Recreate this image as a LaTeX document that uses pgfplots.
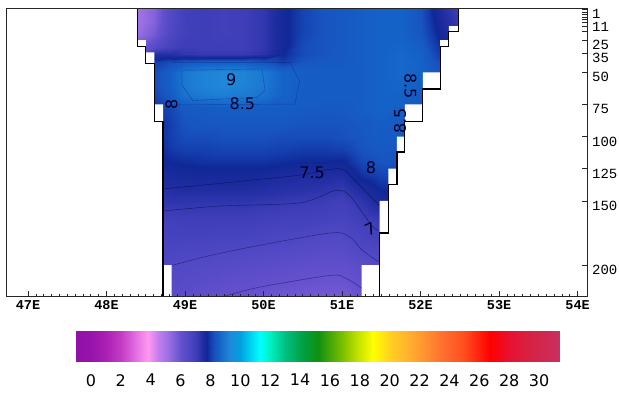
\documentclass[border=0pt]{standalone}
\usepackage{pgfplots}
\pgfplotsset{compat=1.18}
\usepackage{fontspec}
\setmainfont{DejaVu Sans}
\newfontfamily\monofont{Liberation Mono}
\pgfplotsset{
  colormap={ocean}{
    rgb255(0pt)=(144,16,168)
    rgb255(1pt)=(150,20,170)
    rgb255(2pt)=(172,32,180)
    rgb255(3pt)=(196,60,196)
    rgb255(4pt)=(228,112,228)
    rgb255(4.8pt)=(255,152,240)
    rgb255(5.5pt)=(196,126,240)
    rgb255(6.2pt)=(150,110,225)
    rgb255(7pt)=(100,80,205)
    rgb255(7.5pt)=(80,72,196)
    rgb255(8pt)=(62,62,184)
    rgb255(8.5pt)=(30,44,160)
    rgb255(8.8pt)=(16,40,150)
    rgb255(9pt)=(20,60,172)
    rgb255(9.3pt)=(24,84,192)
    rgb255(9.6pt)=(20,98,200)
    rgb255(10pt)=(28,120,210)
    rgb255(10.3pt)=(32,136,216)
    rgb255(11pt)=(0,160,224)
    rgb255(12.3pt)=(0,255,255)
    rgb255(13pt)=(0,240,192)
    rgb255(14pt)=(0,192,128)
    rgb255(15.2pt)=(0,160,64)
    rgb255(16.2pt)=(16,144,16)
    rgb255(17.9pt)=(128,192,0)
    rgb255(18.8pt)=(192,224,0)
    rgb255(19.9pt)=(255,255,0)
    rgb255(21pt)=(255,208,32)
    rgb255(22.3pt)=(255,176,48)
    rgb255(23.4pt)=(255,144,48)
    rgb255(24.5pt)=(255,112,48)
    rgb255(25.9pt)=(255,80,32)
    rgb255(27.7pt)=(255,0,0)
    rgb255(29pt)=(232,16,48)
    rgb255(30.1pt)=(216,32,64)
    rgb255(32.4pt)=(200,48,96)
  },
}
\begin{document}
\begin{tikzpicture}
\useasboundingbox (-6pt,-96pt) rectangle (613pt,296pt);
\begin{axis}[
  at={(0pt,0pt)}, anchor=south west,
  width=581pt, height=288pt, scale only axis,
  xmin=46.72, xmax=54.12, ymin=0, ymax=224, y dir=reverse,
  axis on top,
  axis line style={line width=0.7pt, black!85},
  colormap name=ocean,
  point meta min=-1, point meta max=31.4,
  xtick={47,48,49,50,51,52,53,54},
  xticklabels={47E,48E,49E,50E,51E,52E,53E,54E},
  minor x tick num=9,
  xtick pos=left,
  ytick={1,3,5,7,9,11,14,18,25,35,50,75,100,125,150,200},
  yticklabels={1,,,,,11,,,25,35,50,75,100,125,150,200},
  ytick pos=right,
  tick align=inside,
  major tick length=5pt, minor tick length=2.5pt,
  tick style={black!85, line width=0.6pt},
  xticklabel style={font=\monofont\bfseries\fontsize{13.5}{14}\selectfont, inner sep=0pt, yshift=-4pt},
  yticklabel style={font=\monofont\fontsize{14}{14}\selectfont, inner sep=0pt, anchor=west, xshift=5pt, yshift=-5pt},
]
\addplot[surf, shader=interp, mesh/cols=18, point meta=explicit]
  table[x index=0, y index=1, meta index=2, row sep=\\] {
x y v\\
48.4 0 5.0\\ 48.6 0 5.5\\ 48.8 0 6.4\\ 49 0 6.9\\ 49.25 0 7.0\\ 49.5 0 6.9\\ 49.75 0 7.0\\ 50 0 7.2\\ 50.25 0 7.7\\ 50.5 0 8.1\\ 50.75 0 8.3\\ 51 0 8.4\\ 51.25 0 8.5\\ 51.5 0 8.6\\ 51.75 0 8.6\\ 52 0 8.3\\ 52.25 0 7.5\\ 52.48 0 7.0\\
48.4 10 5.0\\ 48.6 10 5.5\\ 48.8 10 6.4\\ 49 10 6.9\\ 49.25 10 7.0\\ 49.5 10 6.9\\ 49.75 10 7.0\\ 50 10 7.2\\ 50.25 10 7.7\\ 50.5 10 8.1\\ 50.75 10 8.3\\ 51 10 8.4\\ 51.25 10 8.5\\ 51.5 10 8.6\\ 51.75 10 8.6\\ 52 10 8.3\\ 52.25 10 7.6\\ 52.48 10 7.1\\
48.4 20 5.2\\ 48.6 20 5.7\\ 48.8 20 6.5\\ 49 20 6.9\\ 49.25 20 7.0\\ 49.5 20 6.9\\ 49.75 20 7.0\\ 50 20 7.2\\ 50.25 20 7.7\\ 50.5 20 8.1\\ 50.75 20 8.3\\ 51 20 8.4\\ 51.25 20 8.5\\ 51.5 20 8.6\\ 51.75 20 8.6\\ 52 20 8.35\\ 52.25 20 7.7\\ 52.48 20 7.3\\
48.4 30 5.8\\ 48.6 30 6.3\\ 48.8 30 6.8\\ 49 30 7.0\\ 49.25 30 7.0\\ 49.5 30 7.0\\ 49.75 30 7.0\\ 50 30 7.2\\ 50.25 30 7.7\\ 50.5 30 8.2\\ 50.75 30 8.3\\ 51 30 8.4\\ 51.25 30 8.5\\ 51.5 30 8.6\\ 51.75 30 8.65\\ 52 30 8.5\\ 52.25 30 7.9\\ 52.48 30 7.5\\
48.4 36 6.2\\ 48.6 36 7.4\\ 48.8 36 7.4\\ 49 36 7.2\\ 49.25 36 7.1\\ 49.5 36 7.1\\ 49.75 36 7.1\\ 50 36 7.3\\ 50.25 36 7.8\\ 50.5 36 8.2\\ 50.75 36 8.3\\ 51 36 8.4\\ 51.25 36 8.5\\ 51.5 36 8.6\\ 51.75 36 8.7\\ 52 36 8.55\\ 52.25 36 8.0\\ 52.48 36 7.7\\
48.4 42 7.0\\ 48.6 42 8.0\\ 48.8 42 8.2\\ 49 42 8.4\\ 49.25 42 8.5\\ 49.5 42 8.5\\ 49.75 42 8.5\\ 50 42 8.3\\ 50.25 42 8.0\\ 50.5 42 8.3\\ 50.75 42 8.4\\ 51 42 8.4\\ 51.25 42 8.5\\ 51.5 42 8.6\\ 51.75 42 8.7\\ 52 42 8.6\\ 52.25 42 8.2\\ 52.48 42 7.8\\
48.4 50 7.6\\ 48.6 50 8.2\\ 48.8 50 8.5\\ 49 50 9.0\\ 49.25 50 9.2\\ 49.5 50 9.3\\ 49.75 50 9.2\\ 50 50 9.0\\ 50.25 50 8.6\\ 50.5 50 8.5\\ 50.75 50 8.5\\ 51 50 8.5\\ 51.25 50 8.5\\ 51.5 50 8.6\\ 51.75 50 8.7\\ 52 50 8.6\\ 52.25 50 8.3\\ 52.48 50 8.0\\
48.4 60 7.8\\ 48.6 60 8.2\\ 48.8 60 8.5\\ 49 60 9.0\\ 49.25 60 9.2\\ 49.5 60 9.3\\ 49.75 60 9.2\\ 50 60 9.0\\ 50.25 60 8.6\\ 50.5 60 8.5\\ 50.75 60 8.5\\ 51 60 8.5\\ 51.25 60 8.5\\ 51.5 60 8.6\\ 51.75 60 8.65\\ 52 60 8.5\\ 52.25 60 8.3\\ 52.48 60 8.0\\
48.4 68 7.8\\ 48.6 68 8.1\\ 48.8 68 8.4\\ 49 68 8.9\\ 49.25 68 9.05\\ 49.5 68 9.1\\ 49.75 68 9.05\\ 50 68 8.9\\ 50.25 68 8.6\\ 50.5 68 8.5\\ 50.75 68 8.5\\ 51 68 8.5\\ 51.25 68 8.5\\ 51.5 68 8.6\\ 51.75 68 8.6\\ 52 68 8.45\\ 52.25 68 8.3\\ 52.48 68 8.0\\
48.4 78 7.8\\ 48.6 78 7.9\\ 48.8 78 8.1\\ 49 78 8.4\\ 49.25 78 8.45\\ 49.5 78 8.5\\ 49.75 78 8.5\\ 50 78 8.5\\ 50.25 78 8.5\\ 50.5 78 8.45\\ 50.75 78 8.4\\ 51 78 8.4\\ 51.25 78 8.5\\ 51.5 78 8.6\\ 51.75 78 8.5\\ 52 78 8.4\\ 52.25 78 8.3\\ 52.48 78 8.0\\
48.4 90 7.8\\ 48.6 90 7.8\\ 48.8 90 8.0\\ 49 90 8.3\\ 49.25 90 8.35\\ 49.5 90 8.35\\ 49.75 90 8.35\\ 50 90 8.35\\ 50.25 90 8.35\\ 50.5 90 8.3\\ 50.75 90 8.3\\ 51 90 8.3\\ 51.25 90 8.4\\ 51.5 90 8.5\\ 51.75 90 8.45\\ 52 90 8.35\\ 52.25 90 8.3\\ 52.48 90 8.0\\
48.4 100 7.7\\ 48.6 100 7.8\\ 48.8 100 8.0\\ 49 100 8.2\\ 49.25 100 8.2\\ 49.5 100 8.25\\ 49.75 100 8.25\\ 50 100 8.25\\ 50.25 100 8.2\\ 50.5 100 8.2\\ 50.75 100 8.2\\ 51 100 8.25\\ 51.25 100 8.35\\ 51.5 100 8.45\\ 51.75 100 8.4\\ 52 100 8.3\\ 52.25 100 8.2\\ 52.48 100 8.0\\
48.4 110 7.6\\ 48.6 110 7.7\\ 48.8 110 7.95\\ 49 110 8.05\\ 49.25 110 8.05\\ 49.5 110 8.1\\ 49.75 110 8.1\\ 50 110 8.1\\ 50.25 110 8.05\\ 50.5 110 8.0\\ 50.75 110 8.0\\ 51 110 8.05\\ 51.25 110 8.3\\ 51.5 110 8.4\\ 51.75 110 8.35\\ 52 110 8.3\\ 52.25 110 8.2\\ 52.48 110 8.0\\
48.4 120 7.5\\ 48.6 120 7.6\\ 48.8 120 7.8\\ 49 120 7.85\\ 49.25 120 7.9\\ 49.5 120 7.9\\ 49.75 120 7.9\\ 50 120 7.9\\ 50.25 120 7.85\\ 50.5 120 7.8\\ 50.75 120 7.8\\ 51 120 7.75\\ 51.25 120 8.15\\ 51.5 120 8.3\\ 51.75 120 8.3\\ 52 120 8.2\\ 52.25 120 8.1\\ 52.48 120 8.0\\
48.4 130 7.4\\ 48.6 130 7.5\\ 48.8 130 7.6\\ 49 130 7.65\\ 49.25 130 7.65\\ 49.5 130 7.7\\ 49.75 130 7.7\\ 50 130 7.65\\ 50.25 130 7.55\\ 50.5 130 7.5\\ 50.75 130 7.5\\ 51 130 7.45\\ 51.25 130 7.9\\ 51.5 130 8.1\\ 51.75 130 8.1\\ 52 130 8.1\\ 52.25 130 8.0\\ 52.48 130 8.0\\
48.4 140 7.3\\ 48.6 140 7.35\\ 48.8 140 7.45\\ 49 140 7.5\\ 49.25 140 7.5\\ 49.5 140 7.5\\ 49.75 140 7.5\\ 50 140 7.45\\ 50.25 140 7.4\\ 50.5 140 7.35\\ 50.75 140 7.3\\ 51 140 7.2\\ 51.25 140 7.55\\ 51.5 140 7.85\\ 51.75 140 7.9\\ 52 140 7.9\\ 52.25 140 7.9\\ 52.48 140 7.9\\
48.4 150 7.1\\ 48.6 150 7.15\\ 48.8 150 7.25\\ 49 150 7.25\\ 49.25 150 7.25\\ 49.5 150 7.25\\ 49.75 150 7.25\\ 50 150 7.2\\ 50.25 150 7.15\\ 50.5 150 7.1\\ 50.75 150 7.05\\ 51 150 6.95\\ 51.25 150 7.25\\ 51.5 150 7.6\\ 51.75 150 7.7\\ 52 150 7.7\\ 52.25 150 7.7\\ 52.48 150 7.7\\
48.4 165 6.8\\ 48.6 165 6.85\\ 48.8 165 6.9\\ 49 165 6.95\\ 49.25 165 6.95\\ 49.5 165 6.95\\ 49.75 165 6.95\\ 50 165 6.9\\ 50.25 165 6.85\\ 50.5 165 6.85\\ 50.75 165 6.8\\ 51 165 6.7\\ 51.25 165 6.95\\ 51.5 165 7.1\\ 51.75 165 7.2\\ 52 165 7.2\\ 52.25 165 7.2\\ 52.48 165 7.2\\
48.4 180 6.65\\ 48.6 180 6.7\\ 48.8 180 6.75\\ 49 180 6.75\\ 49.25 180 6.75\\ 49.5 180 6.7\\ 49.75 180 6.7\\ 50 180 6.65\\ 50.25 180 6.6\\ 50.5 180 6.55\\ 50.75 180 6.45\\ 51 180 6.45\\ 51.25 180 6.7\\ 51.5 180 6.8\\ 51.75 180 6.8\\ 52 180 6.8\\ 52.25 180 6.8\\ 52.48 180 6.8\\
48.4 200 6.45\\ 48.6 200 6.5\\ 48.8 200 6.5\\ 49 200 6.45\\ 49.25 200 6.4\\ 49.5 200 6.35\\ 49.75 200 6.3\\ 50 200 6.25\\ 50.25 200 6.2\\ 50.5 200 6.15\\ 50.75 200 6.1\\ 51 200 6.1\\ 51.25 200 6.25\\ 51.5 200 6.45\\ 51.75 200 6.5\\ 52 200 6.5\\ 52.25 200 6.5\\ 52.48 200 6.5\\
48.4 224 6.3\\ 48.6 224 6.3\\ 48.8 224 6.3\\ 49 224 6.2\\ 49.25 224 6.1\\ 49.5 224 6.0\\ 49.75 224 5.95\\ 50 224 5.9\\ 50.25 224 5.85\\ 50.5 224 5.8\\ 50.75 224 5.75\\ 51 224 5.75\\ 51.25 224 5.95\\ 51.5 224 6.1\\ 51.75 224 6.2\\ 52 224 6.2\\ 52.25 224 6.2\\ 52.48 224 6.2\\
};
% contour lines
\addplot[smooth, no markers, line width=0.45pt, black!80!blue, opacity=0.55] coordinates {(48.72,140.7) (49.19,138) (49.83,134) (50.46,130) (50.97,125) (51.17,134.5) (51.48,154)};
\addplot[smooth, no markers, line width=0.45pt, black!80!blue, opacity=0.55] coordinates {(48.72,157.9) (49.45,154) (50.46,151.6) (50.91,142) (51.10,146) (51.38,169.5) (51.48,173)};
\addplot[smooth, no markers, line width=0.45pt, black!80!blue, opacity=0.5] coordinates {(48.72,202.2) (49.19,194.4) (49.83,186) (50.85,175) (51.10,178) (51.25,188) (51.45,196.7) (51.48,197)};
\addplot[smooth, no markers, line width=0.45pt, black!80!blue, opacity=0.5] coordinates {(49.51,224) (49.96,217) (50.85,208) (51.04,210) (51.25,218) (51.35,224)};
\addplot[no markers, line width=0.4pt, black!70!blue, opacity=0.35] coordinates {(48.96,48.4) (49.98,47.4) (50.02,64) (49.92,69.5) (49.10,72) (48.96,60) (48.96,48.4)};
\addplot[no markers, line width=0.4pt, black!70!blue, opacity=0.3] coordinates {(48.83,42.5) (50.34,42.5) (50.46,56.8) (50.40,74.7) (48.83,75.4)};
% masks
\addplot[draw=none, fill=white] coordinates {(46.72,0) (48.40,0) (48.40,25) (48.50,25) (48.50,34.5) (48.61,34.5) (48.61,75) (48.72,75) (48.72,200) (48.83,200) (48.83,224) (46.72,224) (46.72,0)} \closedcycle;
\addplot[draw=none, fill=white] coordinates {(54.12,0) (52.48,0) (52.48,14) (52.36,14) (52.36,25) (52.25,25) (52.25,50) (52.03,50) (52.03,75) (51.80,75) (51.80,100) (51.70,100) (51.70,125) (51.59,125) (51.59,150) (51.48,150) (51.48,200) (51.25,200) (51.25,224) (54.12,224) (54.12,0)} \closedcycle;
% bathymetry outline
\addplot[no markers, black, line width=1.1pt] coordinates {(48.40,0) (48.40,30) (48.50,30) (48.50,43) (48.61,43) (48.61,88) (48.72,88) (48.72,224)};
\addplot[no markers, black, line width=1.1pt] coordinates {(52.48,0) (52.48,18) (52.36,18) (52.36,30) (52.25,30) (52.25,63) (52.03,63) (52.03,88) (51.80,88) (51.80,112) (51.70,112) (51.70,137) (51.59,137) (51.59,175) (51.48,175) (51.48,224)};
% contour labels
\begin{scope}[every node/.style={font=\fontsize{16}{16}\selectfont, text=black!85!blue, inner sep=0pt}]
\node at (axis cs:49.59,55.5) {9};
\node at (axis cs:49.73,74.6) {8.5};
\node[rotate=90] at (axis cs:48.83,74.6) {8};
\node at (axis cs:50.62,128.4) {7.5};
\node at (axis cs:51.37,124.5) {8};
\node[rotate=25] at (axis cs:51.36,172) {7};
\node[rotate=-90] at (axis cs:51.87,60.7) {8.5};
\node[rotate=90] at (axis cs:51.74,87.9) {8.5};
\end{scope}
\end{axis}
% colour bar
\begin{axis}[
  at={(70pt,-35pt)}, anchor=north west,
  width=484pt, height=30pt, scale only axis,
  xmin=-1, xmax=31.4, ymin=0, ymax=1,
  colormap name=ocean,
  point meta min=-1, point meta max=31.4,
  axis line style={draw=none},
  ytick=\empty,
  xtick={0,2,4,6,8,10,12,14,16,18,20,22,24,26,28,30},
  xticklabels={0,2,4,6,8,10,12,14,16,18,20,22,24,26,28,30},
  xtick pos=left,
  major tick length=0pt,
  xticklabel style={font=\fontsize{16}{16}\selectfont, inner sep=0pt, yshift=-13pt},
]
\addplot[surf, shader=interp, mesh/cols=36, point meta=x] coordinates {
(-1,0) (0,0) (1,0) (2,0) (3,0) (3.8,0) (4.5,0) (5.2,0) (6,0) (6.5,0) (7,0) (7.5,0) (7.8,0) (8,0) (8.3,0) (8.6,0) (9,0) (9.3,0) (10,0) (11.3,0) (12,0) (13,0) (14.2,0) (15.2,0) (16.9,0) (17.8,0) (18.9,0) (20,0) (21.3,0) (22.4,0) (23.5,0) (24.9,0) (26.7,0) (28,0) (29.1,0) (31.4,0)
(-1,1) (0,1) (1,1) (2,1) (3,1) (3.8,1) (4.5,1) (5.2,1) (6,1) (6.5,1) (7,1) (7.5,1) (7.8,1) (8,1) (8.3,1) (8.6,1) (9,1) (9.3,1) (10,1) (11.3,1) (12,1) (13,1) (14.2,1) (15.2,1) (16.9,1) (17.8,1) (18.9,1) (20,1) (21.3,1) (22.4,1) (23.5,1) (24.9,1) (26.7,1) (28,1) (29.1,1) (31.4,1)
};
\end{axis}
\end{tikzpicture}
\end{document}
